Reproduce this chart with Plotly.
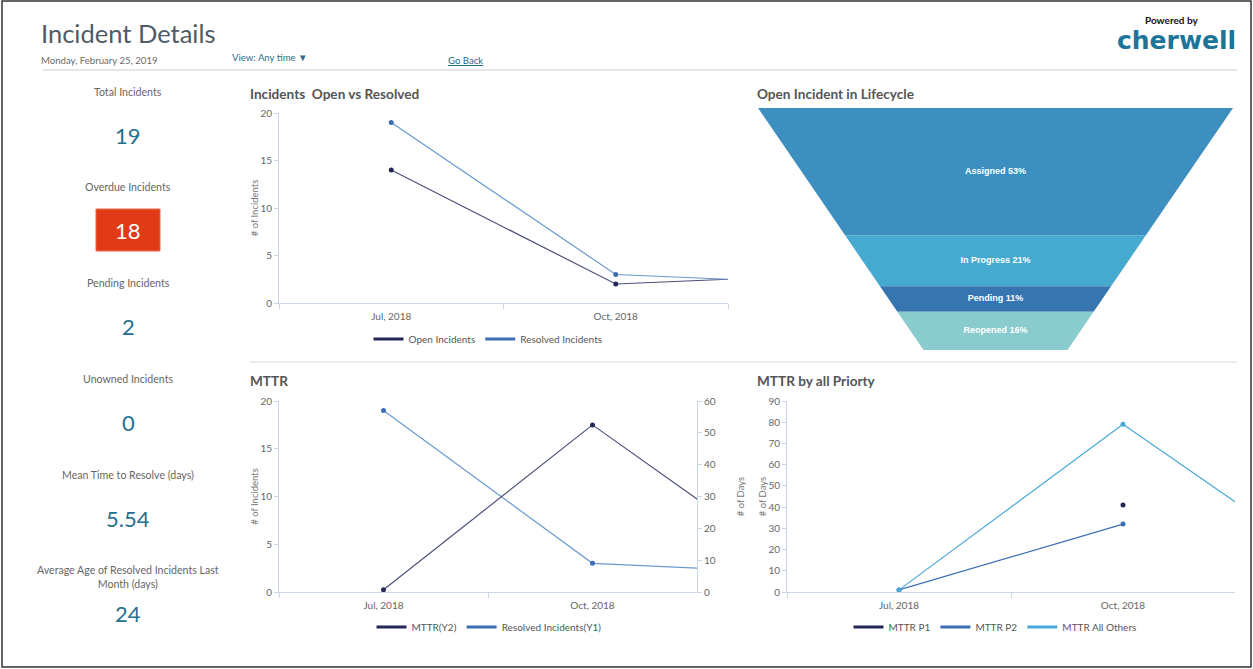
import plotly.graph_objects as go

# ---------------- data ----------------
months = ["Jul, 2018", "Oct, 2018", "Jan, 2019"]
open_incidents = [14, 2, 3]
resolved_incidents = [19, 3, 2]

mttr_days = [0.7, 52.5, 6]
mttr_resolved = [19, 3, 2]

mttr_p1 = [None, 41, None]
mttr_p2 = [1, 32, None]
mttr_others = [1, 79, 6]

stages = ["Assigned", "In Progress", "Pending", "Reopened"]
stage_counts = [10, 4, 2, 3]
stage_colors = ["#3d8fbf", "#46aad0", "#3675b0", "#8acccd"]

kpi_labels = ["Total Incidents", "Overdue Incidents", "Pending Incidents",
              "Unowned Incidents", "Mean Time to Resolve (days)",
              "Average Age of Resolved Incidents Last<br>Month (days)"]
kpi_values = ["19", "18", "2", "0", "5.54", "24"]

# ---------------- helpers ----------------
W, H = 1253, 669
FONT = "Lato, 'Open Sans', sans-serif"
def X(px):
    return px / W
def Y(py):
    return 1 - py / H

DARK = "#232857"
DARK_LINE = "#4b5079"
MID = "#3c6eb4"
MID_LINE = "#6a9ad0"
LIGHT = "#4aa8d8"
AXIS = "#ccd6eb"
TICKFONT = dict(family=FONT, size=10, color="#666666")
TITLEFONT = dict(family=FONT, size=9.5, color="#777777")

fig = go.Figure()

def series(x, y, name, line_col, mark_col, xa, ya, leg):
    # the data trace
    fig.add_trace(go.Scatter(x=x, y=y, name=name, mode="lines+markers",
                             line=dict(color=line_col, width=1.2),
                             marker=dict(color=mark_col, size=5),
                             xaxis=xa, yaxis=ya, showlegend=False))
    # legend entry (short thick line, as in the reference)
    fig.add_trace(go.Scatter(x=[None], y=[None], name=name, mode="lines",
                             line=dict(color=mark_col, width=3),
                             xaxis=xa, yaxis=ya, legend=leg, hoverinfo="skip"))

series(months, open_incidents, "Open Incidents", DARK_LINE, DARK, "x", "y", "legend")
series(months, resolved_incidents, "Resolved Incidents", MID_LINE, MID, "x", "y", "legend")

series(months, mttr_days, "MTTR(Y2)", DARK_LINE, DARK, "x2", "y6", "legend2")
series(months, mttr_resolved, "Resolved Incidents(Y1)", MID_LINE, MID, "x2", "y2", "legend2")

series(months, mttr_p1, "MTTR P1", DARK, DARK, "x3", "y3", "legend3")
series(months, mttr_p2, "MTTR P2", MID, MID, "x3", "y3", "legend3")
series(months, mttr_others, "MTTR All Others", LIGHT, LIGHT, "x3", "y3", "legend3")

# ---- funnel (height proportional to count) ----
total = sum(stage_counts)
base_ratio = 144 / 475
cum = 0
centers, labels = [], []
for name, cnt, col in zip(stages, stage_counts, stage_colors):
    t0 = cum / total
    t1 = (cum + cnt) / total
    w0 = 1 - (1 - base_ratio) * t0
    w1 = 1 - (1 - base_ratio) * t1
    fig.add_trace(go.Scatter(x=[-w0 / 2, w0 / 2, w1 / 2, -w1 / 2, -w0 / 2],
                             y=[t0, t0, t1, t1, t0], fill="toself", fillcolor=col,
                             mode="lines", line=dict(width=0, color=col),
                             hoverinfo="skip", showlegend=False,
                             xaxis="x4", yaxis="y4"))
    centers.append((t0 + t1) / 2)
    labels.append(f"{name} {round(100 * cnt / total)}%")
    cum += cnt
fig.add_trace(go.Scatter(x=[0] * len(stages), y=centers, text=labels, mode="text",
                         textfont=dict(family="Liberation Sans, Arial", size=9,
                                       color="white", weight="bold"),
                         hoverinfo="skip", showlegend=False, xaxis="x4", yaxis="y4"))

# ---------------- axes ----------------
def xax(x0, x1, anchor):
    return dict(domain=[X(x0), X(x1)], anchor=anchor, type="category",
                categoryorder="array", categoryarray=months,
                range=[-0.5, 1.5], tickson="boundaries", ticks="outside",
                ticklen=5, tickcolor=AXIS, showline=True, linecolor=AXIS,
                linewidth=1, showgrid=False, zeroline=False, tickfont=TICKFONT,
                ticklabelstandoff=4, fixedrange=True, automargin=False)

def yax(y0, y1, anchor, rng, dt, title, side="left", overlaying=None, standoff=0):
    d = dict(domain=[Y(y1), Y(y0)], anchor=anchor, range=rng, dtick=dt,
             ticks="outside", ticklen=4, tickcolor=AXIS, showline=True,
             linecolor=AXIS, linewidth=1, showgrid=False, zeroline=False,
             tickfont=TICKFONT, side=side, fixedrange=True, automargin=False,
             title=dict(text=title, font=TITLEFONT, standoff=standoff))
    if overlaying:
        d["overlaying"] = overlaying
    return d

layout = dict(
    template="none",
    width=W, height=H, margin=dict(l=0, r=0, t=0, b=0, pad=0), autosize=False,
    paper_bgcolor="white", plot_bgcolor="white", font=dict(family=FONT),
    showlegend=True, hovermode="closest",
    xaxis=xax(279, 728, "y"),
    yaxis=yax(113, 303, "x", [0, 20], 5, "# of Incidents"),
    xaxis2=xax(279, 697, "y2"),
    yaxis2=yax(401, 592, "x2", [0, 20], 5, "# of Incidents"),
    yaxis6=yax(401, 592, "x2", [0, 60], 10, "# of Days", side="right",
               overlaying="y2", standoff=22),
    xaxis3=xax(787, 1235, "y3"),
    yaxis3=yax(401, 592, "x3", [0, 90], 10, "# of Days"),
    xaxis4=dict(domain=[X(758), X(1233)], anchor="y4", range=[-0.5, 0.5],
                visible=False, fixedrange=True, automargin=False),
    yaxis4=dict(domain=[Y(350), Y(108)], anchor="x4", range=[1, 0],
                visible=False, fixedrange=True, automargin=False),
)
legend_common = dict(orientation="h", xanchor="center", yanchor="middle",
                     font=dict(family=FONT, size=10, color="#555555"),
                     bgcolor="rgba(0,0,0,0)", itemclick=False, itemdoubleclick=False,
                     tracegroupgap=0, borderwidth=0)
layout["legend"] = dict(x=X(488), y=Y(339), **legend_common)
layout["legend2"] = dict(x=X(489), y=Y(627), **legend_common)
layout["legend3"] = dict(x=X(995), y=Y(627), **legend_common)
fig.update_layout(**layout)

# ---------------- shapes ----------------
shapes = [
    dict(type="rect", xref="paper", yref="paper", x0=X(2), x1=X(1251), y0=Y(667), y1=Y(1),
         line=dict(color="#333333", width=1.5), fillcolor="rgba(0,0,0,0)", layer="above"),
    dict(type="line", xref="paper", yref="paper", x0=X(43), x1=X(1237), y0=Y(70), y1=Y(70),
         line=dict(color="#e6e6e6", width=2)),
    dict(type="line", xref="paper", yref="paper", x0=X(250), x1=X(1237), y0=Y(362), y1=Y(362),
         line=dict(color="#e6e6e6", width=1.5)),
    dict(type="rect", xref="paper", yref="paper", x0=X(96), x1=X(160), y0=Y(251), y1=Y(209),
         fillcolor="#e03a16", line=dict(color="#ef6a4c", width=1)),
]
fig.update_layout(shapes=shapes)

# ---------------- annotations ----------------
ann = []
def text(px, py, s, size, color, anchor="left", bold=False, family=FONT):
    ann.append(dict(xref="paper", yref="paper", x=X(px), y=Y(py), text=s, showarrow=False,
                    xanchor=anchor, yanchor="middle", borderpad=0,
                    font=dict(family=family, size=size, color=color,
                              weight="bold" if bold else "normal")))

text(40, 33, "Incident Details", 25.5, "#4f5b66")
text(40, 60, "Monday, February 25, 2019", 9.6, "#6b6b6b")
text(231, 58, "View: Any time \u25BC", 9.6, "#2a6f8f")
text(447, 60, "<u>Go Back</u>", 9.6, "#1a6a8c")
text(1144, 20, "Powered by", 10, "#111111", bold=True)
text(1116, 40.5, "cherwell", 25, "#1c7599", bold=True, family="DejaVu Sans")

text(249, 94, "Incidents\u00a0 Open vs Resolved", 13.6, "#555555", bold=True)
text(756, 94, "Open Incident in Lifecycle", 13.6, "#555555", bold=True)
text(249, 381, "MTTR", 13.6, "#555555", bold=True)
text(756, 381, "MTTR by all Priorty", 13.6, "#555555", bold=True)

label_y = [92, 187, 283, 379, 475, 577]
value_y = [135, 230, 326, 422, 518, 613]
for i, (lab, val) in enumerate(zip(kpi_labels, kpi_values)):
    text(128, label_y[i], lab, 10.6, "#666666", anchor="center")
    text(128, value_y[i], val, 22, "white" if i == 1 else "#23708f", anchor="center")

fig.update_layout(annotations=ann)

fig.write_html("out.html", config={"displayModeBar": False},
               post_script="document.body.style.margin='0';"
                           "document.documentElement.style.overflow='hidden';")
